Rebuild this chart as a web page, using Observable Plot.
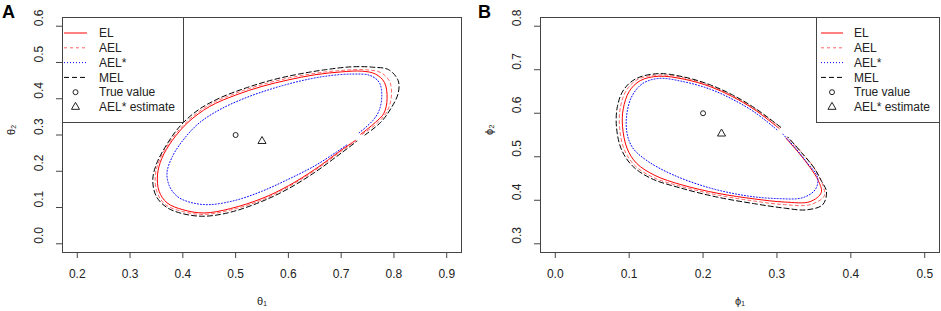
<!DOCTYPE html>
<html>
<head>
<meta charset="utf-8">
<script src="https://cdn.jsdelivr.net/npm/d3@7"></script>
<script src="https://cdn.jsdelivr.net/npm/@observablehq/plot@0.6"></script>
<style>
  html, body { margin: 0; padding: 0; background: #fff; }
  #wrap { position: relative; width: 941px; height: 311px; font-family: "Liberation Sans", Arial, sans-serif; }
  .panel { position: absolute; top: 0; }
  .letter { position: absolute; font-weight: bold; font-size: 18px; line-height: 1; }
  .legend { position: absolute; }
</style>
</head>
<body>
<div id="wrap">
  <div class="panel" id="pa" style="left:0px"></div>
  <div class="panel" id="pb" style="left:470px"></div>
  <div class="letter" style="left:2px;top:3px">A</div>
  <div class="letter" style="left:478px;top:3px">B</div>
  <svg class="legend" id="lega" style="left:62px;top:17px" width="122" height="106"></svg>
  <svg class="legend" id="legb" style="left:816px;top:17px" width="124" height="106"></svg>
</div>
<script>
// ---------- Panel A data (theta1, theta2) ----------
const xTicksA = [0.2, 0.3, 0.4, 0.5, 0.6, 0.7, 0.8, 0.9];
const yTicksA = [0.0, 0.1, 0.2, 0.3, 0.4, 0.5, 0.6];
const EL_A = [
  [0.737,0.302],[0.765,0.335],[0.781,0.36],[0.787,0.40],[0.782,0.445],[0.765,0.468],[0.74,0.476],
  [0.70,0.474],[0.65,0.466],[0.60,0.452],[0.55,0.434],[0.50,0.41],[0.45,0.378],[0.41,0.335],
  [0.38,0.285],[0.36,0.235],[0.352,0.19],[0.355,0.145],[0.37,0.113],[0.40,0.094],[0.44,0.085],
  [0.49,0.097],[0.55,0.125],[0.60,0.16],[0.65,0.205],[0.70,0.258],[0.727,0.285]
];
const AEL_A = [
  [0.74,0.302],[0.77,0.335],[0.787,0.365],[0.795,0.405],[0.792,0.447],[0.775,0.472],[0.745,0.48],
  [0.70,0.478],[0.65,0.47],[0.60,0.457],[0.55,0.439],[0.50,0.415],[0.45,0.383],[0.41,0.34],
  [0.378,0.287],[0.357,0.235],[0.348,0.19],[0.351,0.143],[0.367,0.108],[0.40,0.089],[0.44,0.081],
  [0.49,0.093],[0.55,0.121],[0.60,0.157],[0.65,0.202],[0.70,0.255],[0.728,0.284]
];
const AELS_A = [
  [0.734,0.306],[0.76,0.34],[0.772,0.368],[0.777,0.41],[0.772,0.445],[0.755,0.464],[0.72,0.468],
  [0.67,0.462],[0.62,0.448],[0.57,0.428],[0.52,0.403],[0.47,0.37],[0.43,0.332],[0.40,0.285],
  [0.38,0.24],[0.37,0.195],[0.375,0.158],[0.39,0.13],[0.415,0.114],[0.45,0.108],[0.50,0.12],
  [0.55,0.145],[0.60,0.178],[0.65,0.215],[0.69,0.252],[0.712,0.274]
];
const MEL_A = [
  [0.745,0.300],[0.775,0.335],[0.795,0.375],[0.808,0.415],[0.808,0.45],[0.79,0.48],[0.76,0.487],
  [0.72,0.488],[0.67,0.48],[0.62,0.468],[0.57,0.452],[0.52,0.43],[0.47,0.402],[0.43,0.37],
  [0.395,0.325],[0.368,0.27],[0.35,0.22],[0.343,0.175],[0.35,0.13],[0.37,0.10],[0.40,0.083],
  [0.44,0.076],[0.49,0.087],[0.55,0.117],[0.60,0.152],[0.65,0.197],[0.70,0.25],[0.73,0.283]
];
const TRUE_A = [[0.50, 0.30]];
const EST_A = [[0.55, 0.283]];

// ---------- Panel B data (phi1, phi2) ----------
const xTicksB = [0.0, 0.1, 0.2, 0.3, 0.4, 0.5];
const yTicksB = [0.3, 0.4, 0.5, 0.6, 0.7, 0.8];
const EL_B = [
  [0.303,0.565],[0.27,0.608],[0.24,0.638],[0.21,0.661],[0.175,0.678],[0.14,0.685],[0.115,0.675],
  [0.10,0.65],[0.092,0.61],[0.091,0.57],[0.097,0.52],[0.11,0.485],[0.135,0.457],[0.17,0.436],
  [0.22,0.416],[0.27,0.403],[0.31,0.396],[0.345,0.397],[0.36,0.418],[0.356,0.445],[0.345,0.475],
  [0.33,0.508],[0.312,0.543]
];
const AEL_B = [
  [0.305,0.567],[0.27,0.61],[0.24,0.64],[0.21,0.663],[0.175,0.681],[0.14,0.688],[0.112,0.678],
  [0.096,0.652],[0.088,0.612],[0.087,0.568],[0.093,0.518],[0.107,0.481],[0.132,0.453],[0.17,0.432],
  [0.22,0.412],[0.27,0.398],[0.31,0.39],[0.345,0.39],[0.364,0.41],[0.362,0.435],[0.352,0.47],
  [0.335,0.507],[0.314,0.545]
];
const AELS_B = [
  [0.30,0.562],[0.27,0.602],[0.24,0.632],[0.21,0.655],[0.175,0.672],[0.14,0.68],[0.118,0.668],
  [0.104,0.64],[0.097,0.60],[0.097,0.555],[0.105,0.52],[0.125,0.49],[0.16,0.458],[0.21,0.428],
  [0.26,0.41],[0.30,0.404],[0.335,0.406],[0.352,0.425],[0.355,0.452],[0.34,0.488],[0.325,0.52],
  [0.308,0.552]
];
const MEL_B = [
  [0.305,0.568],[0.27,0.612],[0.24,0.642],[0.21,0.665],[0.175,0.683],[0.14,0.691],[0.11,0.68],
  [0.093,0.655],[0.084,0.615],[0.083,0.565],[0.09,0.515],[0.105,0.478],[0.13,0.45],[0.17,0.428],
  [0.22,0.407],[0.27,0.392],[0.31,0.382],[0.34,0.378],[0.362,0.39],[0.367,0.42],[0.36,0.445],
  [0.35,0.475],[0.333,0.51],[0.315,0.545]
];
const TRUE_B = [[0.20, 0.60]];
const EST_B = [[0.225, 0.553]];

const legendLabels = ["EL", "AEL", "AEL*", "MEL", "True value", "AEL* estimate"];

// ---------- styles ----------
const FONT = "'Liberation Sans', Arial, sans-serif";
const AX = "#444";
const TXT = "#222";
const sEL = {stroke: "#ff0000", strokeWidth: 1};
const sAEL = {stroke: "#ff3030", strokeWidth: 1, strokeDasharray: "3,3", strokeOpacity: 0.75};
const sAELS = {stroke: "#0000ff", strokeWidth: 1, strokeDasharray: "1,2"};
const sMEL = {stroke: "#000000", strokeWidth: 1, strokeDasharray: "5,3"};
const fmt = d3.format(".1f");

function panel({width, marginLeft, marginRight, xDomain, yDomain, xTicks, yTicks, EL, AEL, AELS, MEL, TRUE, EST, xLabel, yLabel}) {
  return Plot.plot({
    width, height: 311,
    marginLeft, marginRight, marginTop: 17, marginBottom: 59,
    style: {fontFamily: FONT, fontSize: "12px", background: "white", color: TXT},
    x: {domain: xDomain},
    y: {domain: yDomain},
    marks: [
      Plot.frame({stroke: AX, strokeWidth: 1}),
      Plot.axisX({ticks: xTicks, tickSize: 6, tickPadding: 11, tickFormat: fmt, stroke: AX, fill: TXT, label: null, fontSize: 12}),
      Plot.axisY({ticks: yTicks, tickSize: 6, tickFormat: () => "", stroke: AX, label: null}),
      Plot.text(yTicks, {y: d => d, text: d => fmt(d), frameAnchor: "left", dx: -23, rotate: -90, fontSize: 12, fill: TXT}),
      Plot.text([xLabel], {text: d => d, frameAnchor: "bottom", dy: 52, fontSize: 11, fill: TXT}),
      Plot.text([yLabel], {text: d => d, frameAnchor: "left", dx: -51, rotate: -90, fontSize: 11, fill: TXT}),
      Plot.line(EL, {...sEL, curve: "catmull-rom"}),
      Plot.line(AEL, {...sAEL, curve: "catmull-rom"}),
      Plot.line(AELS, {...sAELS, curve: "catmull-rom"}),
      Plot.line(MEL, {...sMEL, curve: "catmull-rom"}),
      Plot.dot(TRUE, {r: 2.5, stroke: "#222", fill: "none", strokeWidth: 1}),
      Plot.dot(EST, {r: 3, symbol: "triangle", stroke: "#222", fill: "none", strokeWidth: 1})
    ]
  });
}

document.getElementById("pa").appendChild(panel({
  width: 470, marginLeft: 62, marginRight: 9,
  xDomain: [0.172, 0.928], yDomain: [-0.024, 0.624],
  xTicks: xTicksA, yTicks: yTicksA,
  EL: EL_A, AEL: AEL_A, AELS: AELS_A, MEL: MEL_A, TRUE: TRUE_A, EST: EST_A,
  xLabel: "θ₁", yLabel: "θ₂"
}));
document.getElementById("pb").appendChild(panel({
  width: 471, marginLeft: 70, marginRight: 2,
  xDomain: [-0.02, 0.52], yDomain: [0.28, 0.82],
  xTicks: xTicksB, yTicks: yTicksB,
  EL: EL_B, AEL: AEL_B, AELS: AELS_B, MEL: MEL_B, TRUE: TRUE_B, EST: EST_B,
  xLabel: "ϕ₁", yLabel: "ϕ₂"
}));

// ---------- legends ----------
function legend(id, w, lineX0, lineX1, textX) {
  const svg = d3.select(id);
  svg.append("rect").attr("x", 0.5).attr("y", 0.5).attr("width", w - 1).attr("height", 105)
    .attr("fill", "white").attr("stroke", AX);
  const rowY = i => 16 + i * 14.8;
  const styles = [sEL, sAEL, sAELS, sMEL];
  styles.forEach((s, i) => {
    const l = svg.append("line").attr("x1", lineX0).attr("x2", lineX1).attr("y1", rowY(i)).attr("y2", rowY(i))
      .attr("stroke", s.stroke).attr("stroke-width", 1);
    if (s.strokeDasharray) l.attr("stroke-dasharray", s.strokeDasharray);
    if (s.strokeOpacity) l.attr("stroke-opacity", s.strokeOpacity);
  });
  const cx = (lineX0 + lineX1) / 2;
  svg.append("circle").attr("cx", cx).attr("cy", rowY(4)).attr("r", 2.5).attr("fill", "none").attr("stroke", "#222");
  svg.append("path").attr("transform", `translate(${cx},${rowY(5)})`)
    .attr("d", d3.symbol(d3.symbolTriangle, Math.PI * 9)()).attr("fill", "none").attr("stroke", "#222");
  legendLabels.forEach((t, i) => {
    svg.append("text").attr("x", textX).attr("y", rowY(i)).attr("dy", "0.35em")
      .attr("font-family", FONT).attr("font-size", 12).attr("fill", TXT).text(t);
  });
}
legend("#lega", 122, 2, 25, 37);
legend("#legb", 124, 5, 27, 38);
</script>
</body>
</html>
